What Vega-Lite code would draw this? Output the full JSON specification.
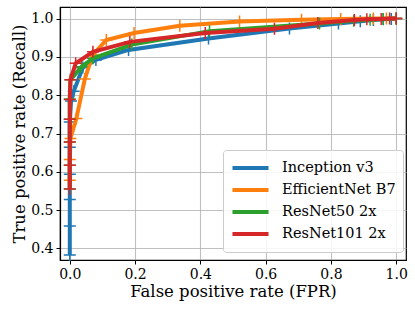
{
  "$schema": "https://vega.github.io/schema/vega-lite/v6.json",
  "width": 346,
  "height": 253,
  "autosize": {"type": "none"},
  "padding": {"left": 60, "top": 7, "right": 9, "bottom": 55},
  "background": "white",
  "config": {
    "view": {"stroke": "black", "strokeWidth": 1.2},
    "font": "DejaVu Serif",
    "axis": {
      "labelFont": "DejaVu Serif",
      "titleFont": "DejaVu Serif",
      "labelFontSize": 14,
      "titleFontSize": 16.5,
      "titleFontWeight": "normal",
      "labelColor": "black",
      "titleColor": "black",
      "domainColor": "black",
      "domainWidth": 1.2,
      "tickColor": "black",
      "tickSize": 4,
      "tickWidth": 1,
      "gridColor": "#b0b0b0",
      "gridOpacity": 0.8,
      "gridWidth": 1.1,
      "labelPadding": 3
    },
    "legend": {
      "labelFont": "DejaVu Serif",
      "labelFontSize": 14.5,
      "labelColor": "black"
    }
  },
  "data": {
    "values": [
      {"model": "Inception v3", "fpr": 0, "tpr": 0.383},
      {"model": "Inception v3", "fpr": 0, "tpr": 0.459},
      {"model": "Inception v3", "fpr": 0, "tpr": 0.528},
      {"model": "Inception v3", "fpr": 0, "tpr": 0.594},
      {"model": "Inception v3", "fpr": 0, "tpr": 0.664},
      {"model": "Inception v3", "fpr": 0, "tpr": 0.73},
      {"model": "Inception v3", "fpr": 0.004, "tpr": 0.785},
      {"model": "Inception v3", "fpr": 0.012, "tpr": 0.81},
      {"model": "Inception v3", "fpr": 0.04, "tpr": 0.872},
      {"model": "Inception v3", "fpr": 0.08, "tpr": 0.892},
      {"model": "Inception v3", "fpr": 0.18, "tpr": 0.918},
      {"model": "Inception v3", "fpr": 0.425, "tpr": 0.948},
      {"model": "Inception v3", "fpr": 0.673, "tpr": 0.974},
      {"model": "Inception v3", "fpr": 0.823, "tpr": 0.987},
      {"model": "Inception v3", "fpr": 0.89, "tpr": 0.993},
      {"model": "Inception v3", "fpr": 0.93, "tpr": 0.996},
      {"model": "Inception v3", "fpr": 0.96, "tpr": 0.998},
      {"model": "Inception v3", "fpr": 0.985, "tpr": 0.999},
      {"model": "Inception v3", "fpr": 1.0, "tpr": 1.0},
      {"model": "EfficientNet B7", "fpr": 0, "tpr": 0.578},
      {"model": "EfficientNet B7", "fpr": 0, "tpr": 0.632},
      {"model": "EfficientNet B7", "fpr": 0.002, "tpr": 0.687},
      {"model": "EfficientNet B7", "fpr": 0.02, "tpr": 0.739},
      {"model": "EfficientNet B7", "fpr": 0.046, "tpr": 0.842},
      {"model": "EfficientNet B7", "fpr": 0.07, "tpr": 0.905},
      {"model": "EfficientNet B7", "fpr": 0.112, "tpr": 0.944},
      {"model": "EfficientNet B7", "fpr": 0.197, "tpr": 0.962},
      {"model": "EfficientNet B7", "fpr": 0.337, "tpr": 0.981},
      {"model": "EfficientNet B7", "fpr": 0.52, "tpr": 0.992},
      {"model": "EfficientNet B7", "fpr": 0.71, "tpr": 0.997},
      {"model": "EfficientNet B7", "fpr": 0.83, "tpr": 0.999},
      {"model": "EfficientNet B7", "fpr": 0.93, "tpr": 1.0},
      {"model": "EfficientNet B7", "fpr": 0.97, "tpr": 1.0},
      {"model": "EfficientNet B7", "fpr": 1.0, "tpr": 1.0},
      {"model": "ResNet50 2x", "fpr": 0, "tpr": 0.555},
      {"model": "ResNet50 2x", "fpr": 0, "tpr": 0.617},
      {"model": "ResNet50 2x", "fpr": 0, "tpr": 0.678},
      {"model": "ResNet50 2x", "fpr": 0, "tpr": 0.737},
      {"model": "ResNet50 2x", "fpr": 0, "tpr": 0.79},
      {"model": "ResNet50 2x", "fpr": 0.002, "tpr": 0.84},
      {"model": "ResNet50 2x", "fpr": 0.036, "tpr": 0.874},
      {"model": "ResNet50 2x", "fpr": 0.071, "tpr": 0.896},
      {"model": "ResNet50 2x", "fpr": 0.19, "tpr": 0.932},
      {"model": "ResNet50 2x", "fpr": 0.428, "tpr": 0.967},
      {"model": "ResNet50 2x", "fpr": 0.765, "tpr": 0.987},
      {"model": "ResNet50 2x", "fpr": 0.87, "tpr": 0.994},
      {"model": "ResNet50 2x", "fpr": 0.92, "tpr": 0.997},
      {"model": "ResNet50 2x", "fpr": 0.96, "tpr": 0.999},
      {"model": "ResNet50 2x", "fpr": 1.0, "tpr": 1.0},
      {"model": "ResNet101 2x", "fpr": 0, "tpr": 0.555},
      {"model": "ResNet101 2x", "fpr": 0, "tpr": 0.617},
      {"model": "ResNet101 2x", "fpr": 0, "tpr": 0.678},
      {"model": "ResNet101 2x", "fpr": 0, "tpr": 0.737},
      {"model": "ResNet101 2x", "fpr": 0, "tpr": 0.789},
      {"model": "ResNet101 2x", "fpr": 0.002, "tpr": 0.84},
      {"model": "ResNet101 2x", "fpr": 0.018, "tpr": 0.883},
      {"model": "ResNet101 2x", "fpr": 0.071, "tpr": 0.913},
      {"model": "ResNet101 2x", "fpr": 0.184, "tpr": 0.939},
      {"model": "ResNet101 2x", "fpr": 0.415, "tpr": 0.962},
      {"model": "ResNet101 2x", "fpr": 0.627, "tpr": 0.973},
      {"model": "ResNet101 2x", "fpr": 0.76, "tpr": 0.988},
      {"model": "ResNet101 2x", "fpr": 0.872, "tpr": 0.996},
      {"model": "ResNet101 2x", "fpr": 0.91, "tpr": 0.998},
      {"model": "ResNet101 2x", "fpr": 0.954, "tpr": 0.999},
      {"model": "ResNet101 2x", "fpr": 0.98, "tpr": 1.0},
      {"model": "ResNet101 2x", "fpr": 1.0, "tpr": 1.0}
    ]
  },
  "encoding": {
    "x": {
      "field": "fpr", "type": "quantitative",
      "scale": {"domain": [-0.03, 1.03], "nice": false, "zero": false},
      "axis": {"values": [0, 0.2, 0.4, 0.6, 0.8, 1.0], "format": ".1f", "title": "False positive rate (FPR)", "titlePadding": 2}
    },
    "y": {
      "field": "tpr", "type": "quantitative",
      "scale": {"domain": [0.37, 1.03], "nice": false, "zero": false},
      "axis": {"values": [0.4, 0.5, 0.6, 0.7, 0.8, 0.9, 1.0], "format": ".1f", "title": "True positive rate (Recall)", "titlePadding": 3}
    },
    "color": {
      "field": "model", "type": "nominal",
      "scale": {
        "domain": ["Inception v3", "EfficientNet B7", "ResNet50 2x", "ResNet101 2x"],
        "range": ["#1f77b4", "#ff7f0e", "#2ca02c", "#d62728"]
      },
      "legend": {
        "title": null,
        "orient": "none",
        "legendX": 163,
        "legendY": 143,
        "symbolType": "stroke",
        "symbolSize": 1300,
        "symbolStrokeWidth": 4,
        "clipHeight": 22,
        "rowPadding": 0,
        "labelOffset": 11,
        "padding": 7,
        "fillColor": "rgba(255,255,255,0.85)",
        "strokeColor": "#cccccc",
        "cornerRadius": 3
      }
    }
  },
  "layer": [
    {
      "transform": [{"filter": "datum.model === 'Inception v3'"}],
      "layer": [
        {"mark": {"type": "line", "strokeWidth": 4}},
        {"mark": {"type": "point", "shape": "M-1,0H1M0,-1V1", "filled": false, "size": 144, "strokeWidth": 1.5, "opacity": 1}}
      ]
    },
    {
      "transform": [{"filter": "datum.model === 'EfficientNet B7'"}],
      "layer": [
        {"mark": {"type": "line", "strokeWidth": 4}},
        {"mark": {"type": "point", "shape": "M-1,0H1M0,-1V1", "filled": false, "size": 144, "strokeWidth": 1.5, "opacity": 1}}
      ]
    },
    {
      "transform": [{"filter": "datum.model === 'ResNet50 2x'"}],
      "layer": [
        {"mark": {"type": "line", "strokeWidth": 4}},
        {"mark": {"type": "point", "shape": "M-1,0H1M0,-1V1", "filled": false, "size": 144, "strokeWidth": 1.5, "opacity": 1}}
      ]
    },
    {
      "transform": [{"filter": "datum.model === 'ResNet101 2x'"}],
      "layer": [
        {"mark": {"type": "line", "strokeWidth": 4}},
        {"mark": {"type": "point", "shape": "M-1,0H1M0,-1V1", "filled": false, "size": 144, "strokeWidth": 1.5, "opacity": 1}}
      ]
    }
  ]
}
